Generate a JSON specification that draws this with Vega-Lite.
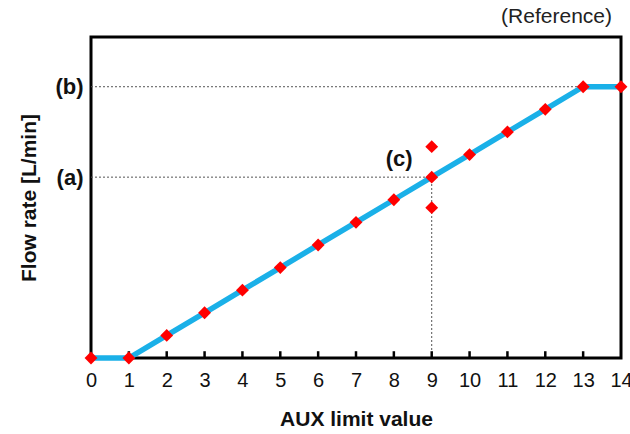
{
  "$schema": "https://vega.github.io/schema/vega-lite/v6.json",
  "autosize": "none",
  "width": 530,
  "height": 321,
  "padding": {"left": 91, "top": 37, "right": 9, "bottom": 76},
  "background": "white",
  "title": {"text": "(Reference)", "anchor": "end", "frame": "group", "fontSize": 21, "fontWeight": "normal", "font": "Liberation Sans", "color": "#222", "offset": 10, "dx": -9},
  "config": {
    "view": {"stroke": "black", "strokeWidth": 3},
    "font": "Liberation Sans"
  },
  "datasets": {
    "curve": [
      {"aux": 0, "flow": 0}, {"aux": 1, "flow": 0}, {"aux": 2, "flow": 1}, {"aux": 3, "flow": 2},
      {"aux": 4, "flow": 3}, {"aux": 5, "flow": 4}, {"aux": 6, "flow": 5}, {"aux": 7, "flow": 6},
      {"aux": 8, "flow": 7}, {"aux": 9, "flow": 8}, {"aux": 10, "flow": 9}, {"aux": 11, "flow": 10},
      {"aux": 12, "flow": 11}, {"aux": 13, "flow": 12}, {"aux": 14, "flow": 12}
    ],
    "extra": [{"aux": 9, "flow": 9.35}, {"aux": 9, "flow": 6.65}],
    "hrefs": [{"aux": 0, "aux2": 9, "flow": 8}, {"aux": 0, "aux2": 13, "flow": 12}],
    "vref": [{"aux": 9, "flow": 0, "flow2": 8}],
    "tickpos": [
      {"aux": 1, "flow": 0, "flow2": 0.3}, {"aux": 2, "flow": 0, "flow2": 0.3}, {"aux": 3, "flow": 0, "flow2": 0.3},
      {"aux": 4, "flow": 0, "flow2": 0.3}, {"aux": 5, "flow": 0, "flow2": 0.3}, {"aux": 6, "flow": 0, "flow2": 0.3},
      {"aux": 7, "flow": 0, "flow2": 0.3}, {"aux": 8, "flow": 0, "flow2": 0.3}, {"aux": 9, "flow": 0, "flow2": 0.3},
      {"aux": 10, "flow": 0, "flow2": 0.3}, {"aux": 11, "flow": 0, "flow2": 0.3}, {"aux": 12, "flow": 0, "flow2": 0.3},
      {"aux": 13, "flow": 0, "flow2": 0.3}
    ],
    "lab": [{"aux": 8.14, "flow": 8.8, "t": "(c)"}]
  },
  "encoding": {
    "x": {"field": "aux", "type": "quantitative", "scale": {"domain": [0, 14], "nice": false},
      "axis": {"values": [0, 1, 2, 3, 4, 5, 6, 7, 8, 9, 10, 11, 12, 13, 14], "format": "d", "domain": false, "grid": false, "ticks": false, "labelOverlap": false, "labelFlush": false, "labelBound": false, "labelPadding": 12, "labelFontSize": 20, "labelColor": "#111", "labelFont": "Liberation Sans",
        "title": "AUX limit value", "titleFontSize": 21, "titleFontWeight": "bold", "titleColor": "#111", "titlePadding": 18, "titleFont": "Liberation Sans"}},
    "y": {"field": "flow", "type": "quantitative", "scale": {"domain": [0, 14.2], "nice": false, "zero": true},
      "axis": {"values": [8, 12], "labelExpr": "datum.value == 8 ? '(a)' : '(b)'", "domain": false, "grid": false, "ticks": false, "labelPadding": 8, "labelFontSize": 22, "labelFontWeight": "bold", "labelColor": "#111", "labelFont": "Liberation Sans",
        "title": "Flow rate [L/min]", "titleFontSize": 21, "titleFontWeight": "bold", "titleColor": "#111", "titlePadding": 15, "titleFont": "Liberation Sans"}}
  },
  "layer": [
    {
      "data": {"name": "hrefs"},
      "mark": {"type": "rule", "color": "#555", "strokeWidth": 1, "strokeDash": [2, 2]},
      "encoding": {"x2": {"field": "aux2"}}
    },
    {
      "data": {"name": "vref"},
      "mark": {"type": "rule", "color": "#555", "strokeWidth": 1, "strokeDash": [2, 2]},
      "encoding": {"y2": {"field": "flow2"}}
    },
    {
      "data": {"name": "tickpos"},
      "mark": {"type": "rule", "color": "black", "strokeWidth": 2.5},
      "encoding": {"y2": {"field": "flow2"}}
    },
    {
      "data": {"name": "curve"},
      "mark": {"type": "line", "color": "#1AB0E8", "strokeWidth": 5.5}
    },
    {
      "data": {"name": "curve"},
      "mark": {"type": "point", "shape": "diamond", "filled": true, "color": "#FF0000", "size": 165, "opacity": 1}
    },
    {
      "data": {"name": "extra"},
      "mark": {"type": "point", "shape": "diamond", "filled": true, "color": "#FF0000", "size": 165, "opacity": 1}
    },
    {
      "data": {"name": "lab"},
      "mark": {"type": "text", "fontSize": 22, "fontWeight": "bold", "color": "#111", "font": "Liberation Sans"},
      "encoding": {"text": {"field": "t"}}
    }
  ]
}
